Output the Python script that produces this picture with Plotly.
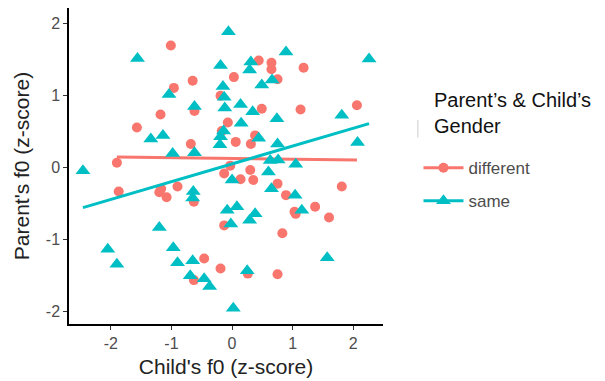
import numpy as np
import plotly.graph_objects as go

# different-gender pairs (red circles)
diff_x = [-1.01, -0.65, -0.96, -0.62, -1.18, -1.57, -0.68, -1.90, 0.44, 0.65, 0.65, 1.18,
          0.03, 0.75, -0.19, 0.49, 1.13, 2.06, -0.07, -0.17, 0.38, 0.06, 0.31, -0.03, 0.30,
          -0.13, 0.14, 0.35, 0.75, 0.89, 1.81, -0.13, 1.03, 1.05, 1.37, 1.60, 0.83, -0.46,
          -0.19, 0.26, 0.75, -1.87, -1.17, -1.20, -1.08, -0.90, -0.63, -0.63]
diff_y = [1.69, 1.20, 1.10, 0.78, 0.73, 0.55, 0.32, 0.06, 1.48, 1.45, 1.36, 1.38,
          1.25, 1.22, 0.99, 0.81, 0.80, 0.86, 0.62, 0.50, 0.44, 0.35, 0.32, 0.02, -0.04,
          -0.09, -0.17, -0.18, -0.23, -0.39, -0.27, -0.81, -0.62, -0.65, -0.55, -0.70, -0.92, -1.27,
          -1.41, -1.48, -1.49, -0.34, -0.30, -0.35, -0.42, -0.27, -0.48, -1.57]

# same-gender pairs (teal triangles)
same_x = [-1.56, -1.04, -0.62, -1.34, -1.14, -0.98, -0.62, -2.46, -0.06, 0.89, 2.26, -0.19,
          0.31, 0.29, 0.66, 0.49, -0.15, -0.13, -0.12, 0.14, 0.34, 1.81, 0.74, 0.15, -0.14,
          -0.19, 0.44, -0.20, 0.75, 2.07, 0.63, 0.76, 1.05, 0.00, 0.60, 0.65, 1.04, -0.08,
          0.08, 0.29, 0.38, -0.02, 1.15, 1.57, 0.25, -0.46, -0.37, 0.02, -0.64, -0.65, -1.20,
          -2.05, -1.90, -0.97, -0.90, -0.65, -0.69]
same_y = [1.51, 1.01, 0.84, 0.39, 0.44, 0.19, 0.20, -0.05, 1.88, 1.60, 1.50, 1.41,
          1.46, 1.35, 1.21, 1.14, 1.12, 0.97, 0.82, 0.87, 0.77, 0.72, 0.67, 0.61, 0.50,
          0.42, 0.40, 0.31, 0.32, 0.34, 0.09, 0.10, 0.04, -0.18, -0.07, -0.30, -0.39, -0.60,
          -0.55, -0.74, -0.65, -0.79, -0.60, -1.26, -1.44, -1.55, -1.66, -1.96, -0.34, -0.43, -0.84,
          -1.14, -1.35, -1.12, -1.33, -1.30, -1.51]

# regression fits (intercept, slope)
diff_fit = [0.12, -0.01]
same_fit = [0.045, 0.247]

x_ticks = [-2, -1, 0, 1, 2]
y_ticks = [-2, -1, 0, 1, 2]

legend_title = "Parent’s & Child’s<br>Gender"

RED = "#F8766D"
TEAL = "#00BFC4"

fig = go.Figure()

def add_group(xs, ys, fit, color, symbol, size, name):
    xs = np.array(xs)
    lx = np.array([xs.min(), xs.max()])
    ly = fit[0] + fit[1] * lx
    fig.add_trace(go.Scatter(x=xs, y=ys, mode="markers", name=name, legendgroup=name,
                             showlegend=False,
                             marker=dict(color=color, symbol=symbol, size=size, line=dict(width=0))))
    fig.add_trace(go.Scatter(x=lx, y=ly, mode="lines", name=name, legendgroup=name,
                             showlegend=False, line=dict(color=color, width=3)))
    # legend entry
    fig.add_trace(go.Scatter(x=[None], y=[None], mode="lines+markers", name=name,
                             legendgroup=name,
                             line=dict(color=color, width=3),
                             marker=dict(color=color, symbol=symbol, size=size)))

add_group(diff_x, diff_y, diff_fit, RED, "circle", 10, "different")
add_group(same_x, same_y, same_fit, TEAL, "triangle-up", 13, "same")

axis_common = dict(showgrid=False, zeroline=False, showline=True, linecolor="black",
                   linewidth=1.5, ticks="outside", ticklen=4, tickwidth=1.2,
                   tickcolor="#333333", tickfont=dict(size=16, color="#4d4d4d"),
                   mirror=False, automargin=False)

fig.update_xaxes(range=[-2.69, 2.49], tickvals=x_ticks, ticktext=[str(v) for v in x_ticks],
                 title=dict(text="Child's f0 (z-score)", font=dict(size=21, color="#222222"),
                            standoff=8),
                 **axis_common)
fig.update_yaxes(range=[-2.18, 2.21], tickvals=y_ticks, ticktext=[str(v) for v in y_ticks],
                 title=dict(text="Parent's f0 (z-score)", font=dict(size=21, color="#222222"),
                            standoff=10),
                 **axis_common)

fig.update_layout(
    width=605, height=381,
    margin=dict(l=69, r=222, t=8, b=57),
    paper_bgcolor="white", plot_bgcolor="white",
    font=dict(family="Liberation Sans, Arial, sans-serif"),
    legend=dict(
        font=dict(size=17, color="#4d4d4d"),
        x=1.113, y=0.55, xanchor="left", yanchor="top",
        itemwidth=40, tracegroupgap=8,
        bgcolor="rgba(0,0,0,0)",
    ),
    annotations=[dict(text=legend_title, xref="paper", yref="paper", x=1.156, y=0.75,
                      xanchor="left", yanchor="top", showarrow=False, align="left",
                      font=dict(size=20, color="#111111"))],
    shapes=[dict(type="line", xref="paper", yref="paper", x0=1.111, x1=1.111, y0=0.59, y1=0.645,
                 line=dict(color="#cccccc", width=1))],
)

fig.write_html("out.html", post_script="document.body.style.margin='0';",
               config={"displayModeBar": False})
